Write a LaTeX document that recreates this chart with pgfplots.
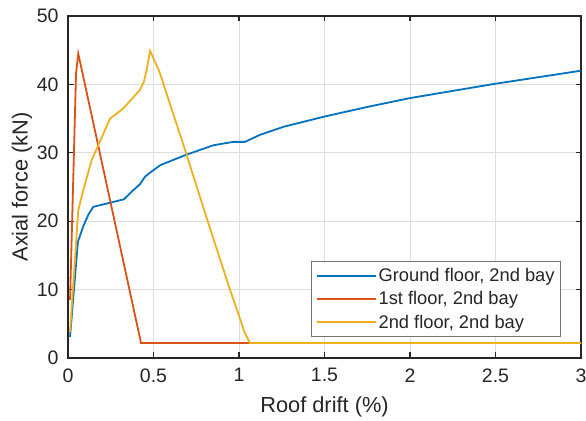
\documentclass[border=0pt]{standalone}
\usepackage{pgfplots}
\pgfplotsset{compat=1.18}
\usepackage{fontspec}
\setmainfont{Liberation Sans}
\definecolor{mblue}{rgb}{0,0.447,0.741}
\definecolor{mred}{rgb}{0.85,0.325,0.098}
\definecolor{myellow}{rgb}{0.929,0.694,0.125}
\definecolor{axcol}{rgb}{0.15,0.15,0.15}
\begin{document}
\begin{tikzpicture}
\begin{axis}[
  name=ax,
  width=513pt, height=342pt, scale only axis,
  xmin=0, xmax=3, ymin=0, ymax=50,
  xtick={0,0.5,1,1.5,2,2.5,3},
  xticklabels={0,0.5,1,1.5,2,2.5,3},
  ytick={0,10,20,30,40,50},
  /pgf/number format/assume math mode=true,
  tick align=inside,
  major tick length=5.5pt,
  axis line style={axcol, line width=1.2pt},
  every tick/.style={axcol, line width=1.2pt},
  grid=major,
  major grid style={draw=black!13, line width=0.8pt},
  ticklabel style={font=\fontsize{19.5}{21}\selectfont, text=axcol},
  xticklabel style={yshift=-7pt},
  yticklabel style={xshift=-6pt},
  xlabel={Roof drift (\%)},
  ylabel={Axial force (kN)},
  label style={font=\fontsize{21.8}{23}\selectfont, text=axcol},
  xlabel style={at={(axis description cs:0.5,-0.1415)}, anchor=center},
  ylabel style={at={(axis description cs:-0.0897,0.5)}, anchor=center, rotate=0},
  legend style={at={(axis description cs:0.961,0.0614)}, anchor=south east,
    draw=black!55, line width=0.8pt, fill=white,
    font=\fontsize{18.3}{20}\selectfont, text=axcol,
    row sep=4.4pt, inner xsep=4pt, inner ysep=5pt},
  legend cell align=left,
  legend image code/.code={\draw[#1, line width=1.8pt] (0pt,0pt) -- (59pt,0pt);},
]
\addplot[mblue, line width=1.8pt] coordinates {
(0.012,3.1) (0.058,17.0) (0.09,19.3) (0.12,21.0) (0.148,22.1) (0.246,22.7)
(0.327,23.2) (0.38,24.5) (0.421,25.4) (0.45,26.5) (0.48,27.1) (0.54,28.2)
(0.69,29.7) (0.85,31.1) (0.967,31.6) (1.035,31.6) (1.12,32.6) (1.26,33.8)
(1.5,35.3) (1.75,36.7) (2.0,38.0) (2.5,40.1) (3.0,42.0)
};
\addlegendentry{Ground floor, 2nd bay}
\addplot[mred, line width=1.8pt] coordinates {
(0.012,8.5) (0.047,41.6) (0.06,44.5) (0.427,2.2) (3.0,2.2)
};
\addlegendentry{1st floor, 2nd bay}
\addplot[myellow, line width=1.8pt] coordinates {
(0.012,3.8) (0.06,21.6) (0.09,24.6) (0.138,28.9) (0.246,35.0) (0.324,36.5)
(0.421,39.2) (0.444,40.4) (0.46,42.1) (0.48,44.9) (0.534,41.9) (0.69,30.0)
(0.817,20.0) (0.947,10.0) (1.0,6.2) (1.03,3.9) (1.064,2.2) (3.0,2.2)
};
\addlegendentry{2nd floor, 2nd bay}
\end{axis}
\pgfresetboundingbox
\path ([shift={(-68pt,-63pt)}]ax.south west) rectangle ([shift={(5pt,16pt)}]ax.north east);
\end{tikzpicture}
\end{document}
